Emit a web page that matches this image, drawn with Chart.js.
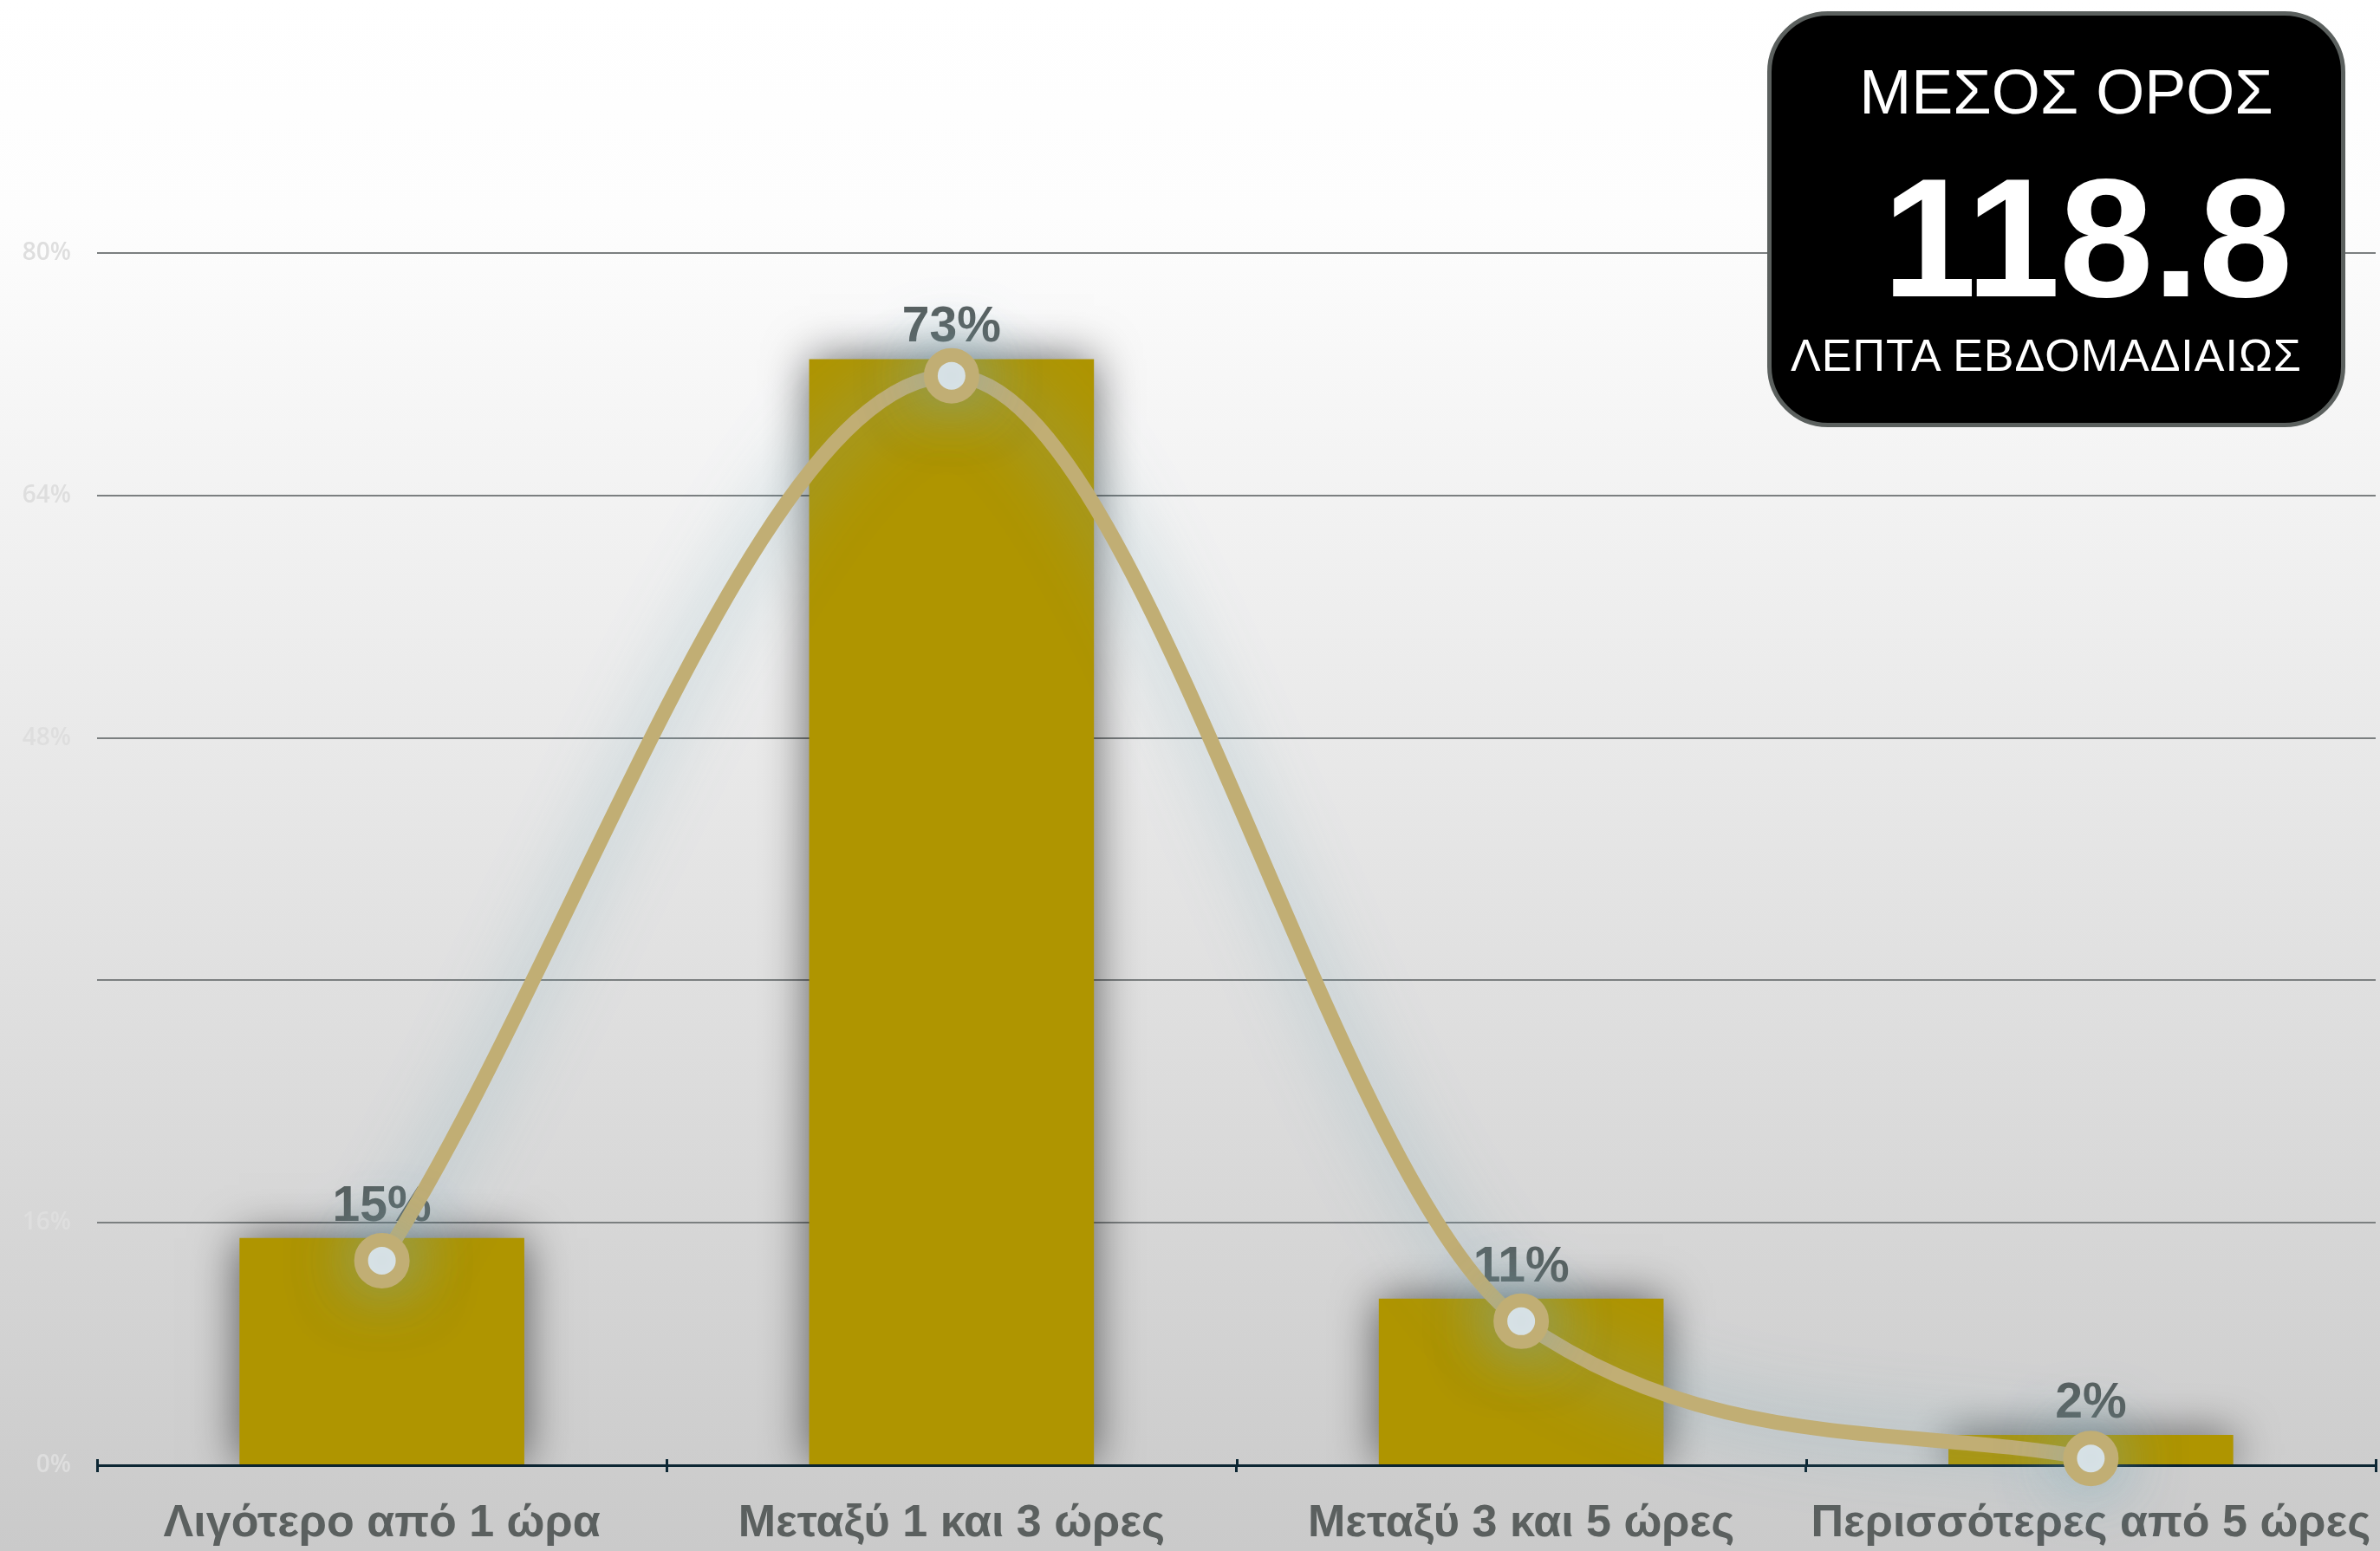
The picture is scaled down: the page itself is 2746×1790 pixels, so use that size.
<!DOCTYPE html>
<html>
<head>
<meta charset="utf-8">
<script src="https://cdn.jsdelivr.net/npm/chart.js@4.4.1/dist/chart.umd.min.js"></script>
<style>
  html, body { margin:0; padding:0; }
  body { width:2746px; height:1790px; overflow:hidden; position:relative;
         background: linear-gradient(to bottom, #ffffff 0px, #fdfdfd 250px, #cacaca 1790px); }
  #wrap { position:absolute; left:0; top:0; width:2746px; height:1790px; overflow:hidden; }
  #c { position:absolute; left:0; top:0; }
  #box { position:absolute; left:2039px; top:13px; width:667px; height:480px; box-sizing:border-box;
         background:#000; border:5px solid #5b605e; border-radius:70px; }
  .bt { position:absolute; width:800px; text-align:center; color:#fff; white-space:nowrap;
        font-family:'Liberation Sans', Arial, sans-serif; }
</style>
</head>
<body>
<div id="wrap"><canvas id="c" width="2800" height="1790"></canvas></div>
<div id="box"></div>
<div class="bt" style="left:1984px; top:70px; font-size:72px; line-height:72px;">ΜΕΣΟΣ ΟΡΟΣ</div>
<div class="bt" style="left:2008px; top:177px; font-size:195px; line-height:195px; font-weight:bold; letter-spacing:-1px;">118.8</div>
<div class="bt" style="left:1961px; top:384px; font-size:52px; line-height:52px; letter-spacing:1px;">ΛΕΠΤΑ ΕΒΔΟΜΑΔΙΑΙΩΣ</div>
<script>
const categories = ['Λιγότερο από 1 ώρα', 'Μεταξύ 1 και 3 ώρες', 'Μεταξύ 3 και 5 ώρες', 'Περισσότερες από 5 ώρες'];
const barValues = [15, 73, 11, 2];
const barLabels = ['15%', '73%', '11%', '2%'];
const lineValues = [13.5, 71.9, 9.5, 0.45];
const yTicks = [0, 16, 32, 48, 64, 80];
const yTickLabels = ['0%', '16%', '', '48%', '64%', '80%'];

const BAR_COLOR = '#af9500';
const LINE_COLOR = '#c1ae74';
const AXIS_COLOR = '#0c2633';

const effects = {
  id: 'effects',
  beforeDatasetDraw(chart, args) {
    const ctx = chart.ctx;
    ctx.save();
    if (args.meta.type === 'bar') {
      ctx.shadowColor = 'rgba(0,0,0,0.6)';
      ctx.shadowBlur = 50;
    } else {
      ctx.shadowColor = 'rgba(120,170,185,0.7)';
      ctx.shadowBlur = 75;
    }
  },
  afterDatasetDraw(chart, args) {
    const ctx = chart.ctx;
    ctx.restore();
    if (args.meta.type === 'bar') {
      ctx.save();
      ctx.fillStyle = '#59605f';
      ctx.font = 'bold 57px "Liberation Sans", Arial, sans-serif';
      ctx.textAlign = 'center';
      ctx.textBaseline = 'alphabetic';
      args.meta.data.forEach((el, i) => {
        ctx.fillText(barLabels[i], el.x, el.y - 20);
      });
      ctx.restore();
    }
  },
  afterDraw(chart) {
    const xs = chart.scales.x;
    const ctx = chart.ctx;
    const n = categories.length;
    const w = (xs.right - xs.left) / n;
    ctx.save();
    ctx.strokeStyle = AXIS_COLOR;
    ctx.lineWidth = 3;
    for (let i = 0; i <= n; i++) {
      const x = Math.round(xs.left + i * w) + 0.5;
      ctx.beginPath();
      ctx.moveTo(x, xs.top - 7);
      ctx.lineTo(x, xs.top);
      ctx.stroke();
    }
    ctx.restore();
  }
};

new Chart(document.getElementById('c'), {
  data: {
    labels: categories,
    datasets: [
      {
        type: 'line',
        data: lineValues,
        order: 0,
        borderColor: LINE_COLOR,
        borderWidth: 17,
        cubicInterpolationMode: 'monotone',
        fill: false,
        pointRadius: 24,
        pointBorderWidth: 16,
        pointBackgroundColor: '#e8ebee',
        pointBorderColor: LINE_COLOR,
        clip: false
      },
      {
        type: 'bar',
        data: barValues,
        order: 1,
        backgroundColor: BAR_COLOR,
        barPercentage: 0.5,
        categoryPercentage: 1.0
      }
    ]
  },
  options: {
    responsive: false,
    animation: false,
    devicePixelRatio: 1,
    layout: { padding: { top: 292, right: 59, bottom: 0, left: 0 } },
    plugins: { legend: { display: false }, tooltip: { enabled: false } },
    scales: {
      x: {
        offset: true,
        afterFit(scale) { scale.height = 99; },
        border: { display: true, color: AXIS_COLOR, width: 3 },
        grid: { display: true, offset: true, drawOnChartArea: false, drawTicks: true, tickLength: 8, color: AXIS_COLOR, lineWidth: 3 },
        ticks: { padding: 28, color: '#5b605f', maxRotation: 0, autoSkip: false,
                 font: { family: '"Liberation Sans", Arial, sans-serif', size: 52, weight: 'bold' } }
      },
      y: {
        min: 0, max: 80,
        border: { display: false },
        grid: { color: '#7b7f80', lineWidth: 2, drawTicks: false },
        afterFit(scale) { scale.width = 112; },
        afterBuildTicks(scale) { scale.ticks = yTicks.map(v => ({ value: v })); },
        ticks: {
          padding: 30,
          color: '#dedede',
          font: { family: '"Open Sans", sans-serif', size: 28, weight: '600' },
          callback: (v) => { const i = yTicks.indexOf(v); return i >= 0 ? yTickLabels[i] : ''; }
        }
      }
    }
  },
  plugins: [effects]
});
</script>
</body>
</html>
